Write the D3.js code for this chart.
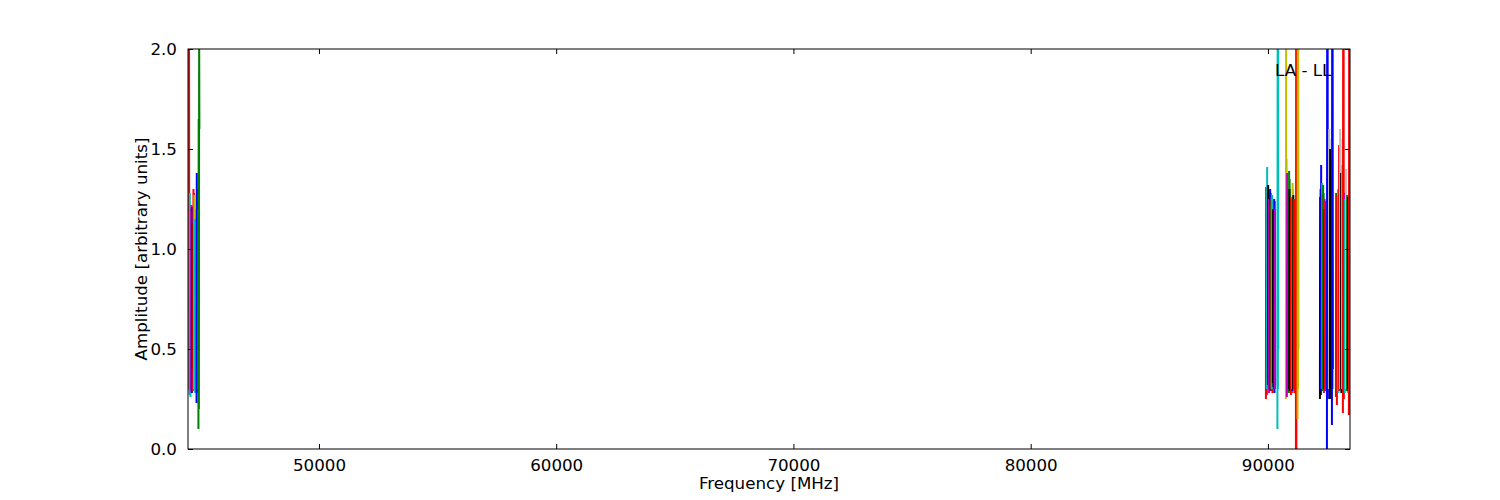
<!DOCTYPE html>
<html>
<head>
<meta charset="utf-8">
<script src="https://cdn.jsdelivr.net/npm/d3@7"></script>
<style>
  body { margin: 0; background: #fff; }
  svg text { font-family: "DejaVu Sans", sans-serif; }
</style>
</head>
<body>
<div id="chart"></div>
<script>
// axis setup
const freqDomain = [44480, 93460];
const ampDomain = [0, 2];
const xTicks = [50000, 60000, 70000, 80000, 90000];
const yTicks = [0, 0.5, 1.0, 1.5, 2.0];
const chanStep = 10; // MHz between channels within one spectral window

// spectral windows: start frequency, colour, channel amplitudes
const seriesStart = [
    44525, 44545, 44600, 44640, 44660, 44700, 44740, 44760, 44840, 44900,
    89916, 89958, 90000, 90030, 90084, 90110, 90150, 90168, 90210, 90253, 90290, 90400,
    90758, 90800, 90884, 90900, 90969, 91011, 91030, 91060, 91095, 91180, 91250,
    92192, 92234, 92276, 92300, 92318, 92361, 92380, 92403, 92487, 92571, 92613, 92698,
    92866, 92908, 92950, 92992, 93035, 93077, 93119, 93161, 93203, 93245, 93290, 93330, 93380, 93414
];
const seriesColor = [
    'r', 'c', 'm', 'b', 'k', 'r', 'y', 'c', 'b', 'g',
    'r', 'c', 'k', 'm', 'b', 'g', 'r', 'c', 'k', 'b', 'm', 'c',
    'y', 'm', 'g', 'k', 'r', 'b', 'y', 'k', 'r', 'r', 'y',
    'k', 'b', 'c', 'r', 'g', 'm', 'k', 'r', 'b', 'gray', 'k', 'b',
    'g', 'r', 'c', 'r', 'gray', 'k', 'y', 'r', 'm', 'c', 'gray', 'g', 'k', 'r'
];
const seriesAmp = [
    [2.1, 0.3, 1.22, 0.29, 1.2],
    [0.27, 1.28, 0.3, 1.2, 0.26],
    [0.29, 1.2, 0.3, 1.22, 0.28],
    [0.28, 1.21, 0.29, 1.15, 0.3],
    [0.4, 1.13, 0.6, 1.1],
    [0.29, 1.3, 0.3, 1.28, 0.31],
    [0.3, 1.27, 0.29, 1.2, 0.32],
    [0.3, 1.15, 0.28, 1.1],
    [0.23, 1.38, 0.28, 1.3],
    [0.3, 1.2, 0.1, 1.65, 0.2, 2.1, 1.6],

    [0.25, 1.31, 0.3, 1.28, 0.27],
    [0.3, 1.41, 0.32, 1.3, 0.3],
    [0.32, 1.32, 1.08, 1.3, 0.33],
    [0.3, 1.25, 0.28, 1.2],
    [0.3, 1.3, 0.29, 1.28, 0.3],
    [0.31, 1.22, 0.3, 1.25],
    [0.29, 1.26, 0.3, 1.2, 0.28],
    [0.3, 1.27, 0.32, 1.25],
    [0.33, 1.2, 0.31, 1.18],
    [0.3, 1.25, 0.28, 1.24, 0.3],
    [0.3, 1.2, 0.32],
    [0.1, 2.1, 0.3, 2.1, 0.5],

    [0.25, 2.1, 0.3, 1.45, 0.28],
    [0.26, 1.38, 0.3, 1.3],
    [0.28, 1.39, 0.3, 1.35, 0.29],
    [0.3, 1.3, 0.29, 1.25],
    [0.27, 1.26, 0.3, 1.22, 0.28],
    [0.3, 1.25, 0.29, 1.2],
    [0.3, 1.33, 0.31, 1.3],
    [0.3, 1.27, 0.3],
    [0.3, 1.25, 0.28],
    [-0.1, 2.1, 0.0, 2.1, 0.3],
    [0.15, 2.1, 0.3, 2.1, 0.5],

    [0.25, 1.26, 0.3, 1.3, 0.27],
    [0.3, 1.42, 0.29, 1.3, 0.3],
    [0.3, 1.33, 0.31, 1.3],
    [0.3, 1.27, 0.29, 1.25],
    [0.29, 1.32, 0.3, 1.28, 0.3],
    [0.28, 1.22, 0.3, 1.25],
    [0.3, 1.2, 0.3],
    [0.3, 1.24, 0.29],
    [-0.1, 2.1, 0.3, 2.1, 0.25],
    [0.3, 1.6, 0.32, 1.55],
    [0.25, 1.5, 0.3, 1.45],
    [0.12, 2.1, 0.3, 2.1, 0.4],

    [0.26, 1.28, 0.3, 1.25, 0.28],
    [0.22, 1.27, 0.3, 1.2],
    [0.29, 1.3, 0.28],
    [0.3, 1.52, 0.29, 1.45, 0.3],
    [0.3, 1.6, 0.31, 1.55],
    [0.3, 1.38, 0.28, 1.35],
    [0.3, 1.42, 0.31, 1.3],
    [0.18, 2.1, 0.3, 2.1, 0.25],
    [0.3, 1.28, 0.29],
    [0.28, 1.25, 0.3],
    [0.3, 1.4, 0.3],
    [0.29, 1.27, 0.3],
    [0.3, 1.26, 0.28],
    [0.17, 2.1, 0.3, 2.1, 0.25]
];
const panelLabel = 'LA - LL';

// matplotlib classic colour letters
const colorMap = {
    b: '#0000ff', g: '#008000', r: '#ff0000', c: '#00bfbf',
    m: '#bf00bf', y: '#bfbf00', k: '#000000', gray: '#c0c0c0'
};

const width = 1500;
const height = 500;
const margin = { top: 49, right: 150, bottom: 51, left: 188 };
const innerW = width - margin.left - margin.right;
const innerH = height - margin.top - margin.bottom;
const fontSize = '16.7px';

const svg = d3.select('#chart')
    .append('svg')
    .attr('width', width)
    .attr('height', height);

const x = d3.scaleLinear().domain(freqDomain).range([0, innerW]);
const y = d3.scaleLinear().domain(ampDomain).range([innerH, 0]);

svg.append('defs').append('clipPath')
    .attr('id', 'plot-clip')
    .append('rect')
    .attr('width', innerW)
    .attr('height', innerH);

const g = svg.append('g')
    .attr('transform', `translate(${margin.left},${margin.top})`);

// spectra
const line = d3.line()
    .x(d => x(d[0]))
    .y(d => y(d[1]));

const plot = g.append('g').attr('clip-path', 'url(#plot-clip)');

seriesStart.forEach((start, i) => {
    const pts = seriesAmp[i].map((a, j) => [start + j * chanStep, a]);
    plot.append('path')
        .datum(pts)
        .attr('fill', 'none')
        .attr('stroke', colorMap[seriesColor[i]])
        .attr('stroke-width', 2)
        .attr('d', line);
});

// axes, ticks pointing inward like matplotlib classic
const tickLen = 5;

const styleAxis = (sel) => {
    sel.select('.domain').remove();
    sel.selectAll('line').attr('stroke', '#000').attr('stroke-width', 1);
    sel.selectAll('text')
        .attr('fill', '#000')
        .style('font-size', fontSize)
        .style('font-family', '"DejaVu Sans", sans-serif');
};

g.append('g')
    .attr('transform', `translate(0,${innerH})`)
    .call(d3.axisBottom(x).tickValues(xTicks).tickFormat(d3.format('d'))
        .tickSizeInner(-tickLen).tickSizeOuter(0).tickPadding(10))
    .call(styleAxis);

g.append('g')
    .call(d3.axisTop(x).tickValues(xTicks)
        .tickSizeInner(-tickLen).tickSizeOuter(0).tickFormat(''))
    .call(styleAxis);

g.append('g')
    .call(d3.axisLeft(y).tickValues(yTicks).tickFormat(d3.format('.1f'))
        .tickSizeInner(-tickLen).tickSizeOuter(0).tickPadding(11))
    .call(styleAxis);

g.append('g')
    .attr('transform', `translate(${innerW},0)`)
    .call(d3.axisRight(y).tickValues(yTicks)
        .tickSizeInner(-tickLen).tickSizeOuter(0).tickFormat(''))
    .call(styleAxis);

// frame
g.append('rect')
    .attr('width', innerW)
    .attr('height', innerH)
    .attr('fill', 'none')
    .attr('stroke', '#000')
    .attr('stroke-width', 1);

// labels
g.append('text')
    .attr('x', 1275 - margin.left)
    .attr('y', 76 - margin.top)
    .style('font-size', fontSize)
    .text(panelLabel);

svg.append('text')
    .attr('x', margin.left + innerW / 2)
    .attr('y', 489)
    .attr('text-anchor', 'middle')
    .style('font-size', fontSize)
    .text('Frequency [MHz]');

svg.append('text')
    .attr('transform', `translate(147,${margin.top + innerH / 2}) rotate(-90)`)
    .attr('text-anchor', 'middle')
    .style('font-size', fontSize)
    .text('Amplitude [arbitrary units]');
</script>
</body>
</html>
